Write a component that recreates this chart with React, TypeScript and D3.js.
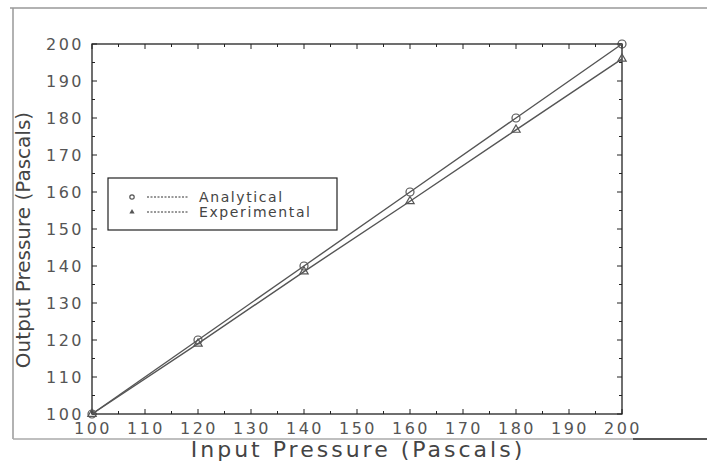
import React from 'react';
import * as d3 from 'd3';

// values
const inputPressure = [100, 120, 140, 160, 180, 200];
const analytical = [100, 120, 140, 160, 180, 200];
const experimental = [100, 119, 138.5, 157.5, 176.8, 196];
const ticks = [100, 110, 120, 130, 140, 150, 160, 170, 180, 190, 200];
const minorTicks = [105, 115, 125, 135, 145, 155, 165, 175, 185, 195];
const legendLabels = ['Analytical', 'Experimental'];

const W = 707;
const H = 462;
const plot = { left: 92, right: 622, top: 44, bottom: 414 };
const font = "'DejaVu Sans', sans-serif";

const App: React.FC = () => {
  const x = d3.scaleLinear().domain([100, 200]).range([plot.left, plot.right]);
  const y = d3.scaleLinear().domain([100, 200]).range([plot.bottom, plot.top]);

  const line = d3.line<number>()
    .x((_, i) => x(inputPressure[i]))
    .y(d => y(d));

  const tri = d3.symbol().type(d3.symbolTriangle).size(30)();
  const stroke = '#555';

  return (
    <svg width={W} height={H} style={{ position: 'absolute', left: 0, top: 0, background: '#fff' }}>
      {/* outer frame of the scanned figure */}
      <line x1={10} x2={707} y1={8} y2={8} stroke="#999" strokeWidth={1.5} />
      <line x1={13} x2={13} y1={8} y2={439} stroke="#999" strokeWidth={1.5} />
      <line x1={13} x2={707} y1={439} y2={439} stroke="#aaa" strokeWidth={1.5} />
      <line x1={633} x2={707} y1={439} y2={439} stroke="#333" strokeWidth={1.5} />

      {/* plot box */}
      <rect x={plot.left} y={plot.top} width={plot.right - plot.left} height={plot.bottom - plot.top}
        fill="none" stroke="#222" strokeWidth={1.3} />

      {ticks.map(t => (
        <g key={'t' + t} stroke="#222" strokeWidth={1}>
          <line x1={x(t)} x2={x(t)} y1={plot.bottom} y2={plot.bottom - 5} />
          <line x1={x(t)} x2={x(t)} y1={plot.top} y2={plot.top + 5} />
          <line x1={plot.left} x2={plot.left + 5} y1={y(t)} y2={y(t)} />
          <line x1={plot.right} x2={plot.right - 5} y1={y(t)} y2={y(t)} />
        </g>
      ))}
      {minorTicks.map(t => (
        <g key={'m' + t} stroke="#222" strokeWidth={1}>
          <line x1={x(t)} x2={x(t)} y1={plot.bottom} y2={plot.bottom - 3} />
          <line x1={x(t)} x2={x(t)} y1={plot.top} y2={plot.top + 3} />
          <line x1={plot.left} x2={plot.left + 3} y1={y(t)} y2={y(t)} />
          <line x1={plot.right} x2={plot.right - 3} y1={y(t)} y2={y(t)} />
        </g>
      ))}

      {/* tick labels */}
      {ticks.map(t => (
        <text key={'xl' + t} x={x(t) + 1} y={plot.bottom + 20} textAnchor="middle"
          fontFamily={font} fontSize={16} letterSpacing={2.5} fill="#555">{t}</text>
      ))}
      {ticks.map(t => (
        <text key={'yl' + t} x={plot.left - 8} y={y(t)} dy="0.36em" textAnchor="end"
          fontFamily={font} fontSize={16} letterSpacing={2.5} fill="#555">{t}</text>
      ))}

      {/* axis titles */}
      <text x={(plot.left + plot.right) / 2 + 1} y={457} textAnchor="middle"
        fontFamily={font} fontSize={22} letterSpacing={3} fill="#444">Input Pressure (Pascals)</text>
      <text transform={`translate(30,240) rotate(-90)`} textAnchor="middle"
        fontFamily={font} fontSize={20} fill="#444">Output Pressure (Pascals)</text>

      {/* series */}
      <path d={line(analytical) || ''} fill="none" stroke={stroke} strokeWidth={1.4} />
      <path d={line(experimental) || ''} fill="none" stroke={stroke} strokeWidth={1.4} />
      {analytical.map((v, i) => (
        <circle key={'a' + i} cx={x(inputPressure[i])} cy={y(v)} r={4} fill="none" stroke={stroke} strokeWidth={1.2} />
      ))}
      {experimental.map((v, i) => (
        <path key={'e' + i} d={tri || ''} transform={`translate(${x(inputPressure[i])},${y(v)})`}
          fill="none" stroke={stroke} strokeWidth={1.2} />
      ))}

      {/* legend */}
      <rect x={108} y={178} width={229} height={52} fill="#fff" stroke="#222" strokeWidth={1.2} />
      {legendLabels.map((lab, i) => {
        const ly = 197 + i * 15;
        return (
          <g key={lab}>
            {i === 0
              ? <circle cx={132} cy={ly} r={2.2} fill="none" stroke={stroke} strokeWidth={1.2} />
              : <path d={d3.symbol().type(d3.symbolTriangle).size(12)() || ''} transform={`translate(132,${ly})`} fill={stroke} />}
            <line x1={147} x2={189} y1={ly} y2={ly} stroke="#333" strokeWidth={1} strokeDasharray="2,1.5" />
            <text x={199} y={ly} dy="0.35em" fontFamily={font} fontSize={14} letterSpacing={1.6} fill="#444">{lab}</text>
          </g>
        );
      })}
    </svg>
  );
};

export default App;
